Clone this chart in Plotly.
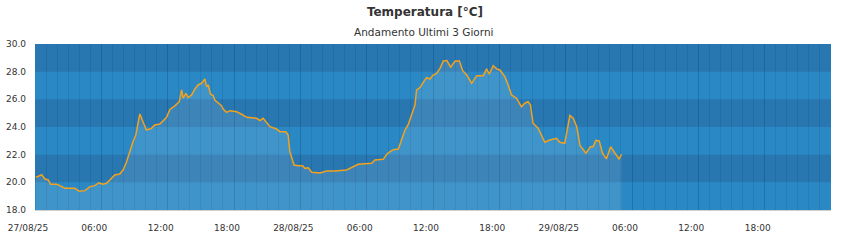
import plotly.graph_objects as go

# ---- data ----
times = [
    "2025-08-27 00:05", "2025-08-27 00:36", "2025-08-27 00:54", "2025-08-27 01:12", "2025-08-27 01:25",
    "2025-08-27 01:58", "2025-08-27 02:25", "2025-08-27 02:43", "2025-08-27 03:37", "2025-08-27 04:00",
    "2025-08-27 04:31", "2025-08-27 04:58", "2025-08-27 05:25", "2025-08-27 05:47", "2025-08-27 06:07",
    "2025-08-27 06:28", "2025-08-27 06:46", "2025-08-27 07:13", "2025-08-27 07:40", "2025-08-27 07:58",
    "2025-08-27 08:17", "2025-08-27 08:34", "2025-08-27 08:52", "2025-08-27 09:07", "2025-08-27 09:29",
    "2025-08-27 09:46", "2025-08-27 10:05", "2025-08-27 10:32", "2025-08-27 10:50", "2025-08-27 11:18",
    "2025-08-27 11:36", "2025-08-27 11:54", "2025-08-27 12:12", "2025-08-27 12:39", "2025-08-27 13:03",
    "2025-08-27 13:16", "2025-08-27 13:24", "2025-08-27 13:39", "2025-08-27 13:51", "2025-08-27 14:10",
    "2025-08-27 14:28", "2025-08-27 14:45", "2025-08-27 15:04", "2025-08-27 15:22", "2025-08-27 15:31",
    "2025-08-27 15:40", "2025-08-27 15:53", "2025-08-27 16:07", "2025-08-27 16:16", "2025-08-27 16:34",
    "2025-08-27 16:52", "2025-08-27 17:01", "2025-08-27 17:20", "2025-08-27 17:38", "2025-08-27 18:14",
    "2025-08-27 18:41", "2025-08-27 19:09", "2025-08-27 20:03", "2025-08-27 20:21", "2025-08-27 20:38",
    "2025-08-27 20:57", "2025-08-27 21:15", "2025-08-27 21:51", "2025-08-27 22:09", "2025-08-27 22:41",
    "2025-08-27 22:54", "2025-08-27 23:03", "2025-08-27 23:12", "2025-08-27 23:26", "2025-08-27 23:49",
    "2025-08-28 00:13", "2025-08-28 00:25", "2025-08-28 00:43", "2025-08-28 01:02", "2025-08-28 01:47",
    "2025-08-28 02:23", "2025-08-28 03:08", "2025-08-28 04:11", "2025-08-28 04:38", "2025-08-28 05:14",
    "2025-08-28 06:27", "2025-08-28 06:45", "2025-08-28 07:30", "2025-08-28 07:49", "2025-08-28 08:07",
    "2025-08-28 08:25", "2025-08-28 08:52", "2025-08-28 09:10", "2025-08-28 09:28", "2025-08-28 09:46",
    "2025-08-28 10:04", "2025-08-28 10:22", "2025-08-28 10:31", "2025-08-28 10:49", "2025-08-28 11:07",
    "2025-08-28 11:25", "2025-08-28 11:43", "2025-08-28 12:01", "2025-08-28 12:20", "2025-08-28 12:38",
    "2025-08-28 12:56", "2025-08-28 13:15", "2025-08-28 13:36", "2025-08-28 14:00", "2025-08-28 14:23",
    "2025-08-28 14:41", "2025-08-28 15:03", "2025-08-28 15:30", "2025-08-28 15:57", "2025-08-28 16:33",
    "2025-08-28 16:51", "2025-08-28 17:05", "2025-08-28 17:27", "2025-08-28 17:45", "2025-08-28 18:03",
    "2025-08-28 18:30", "2025-08-28 18:48", "2025-08-28 19:06", "2025-08-28 19:33", "2025-08-28 20:00",
    "2025-08-28 20:18", "2025-08-28 20:36", "2025-08-28 20:49", "2025-08-28 21:03", "2025-08-28 21:30",
    "2025-08-28 21:49", "2025-08-28 22:07", "2025-08-28 22:34", "2025-08-28 23:10", "2025-08-28 23:28",
    "2025-08-28 23:55", "2025-08-29 00:23", "2025-08-29 00:41", "2025-08-29 01:00", "2025-08-29 01:18",
    "2025-08-29 01:50", "2025-08-29 02:15", "2025-08-29 02:29", "2025-08-29 02:44", "2025-08-29 03:02",
    "2025-08-29 03:20", "2025-08-29 03:41", "2025-08-29 04:04", "2025-08-29 04:27", "2025-08-29 04:50",
    "2025-08-29 05:03",
]
temps = [
    20.36, 20.55, 20.24, 20.17, 19.86, 19.86, 19.69, 19.57, 19.57, 19.35,
    19.40, 19.69, 19.76, 19.97, 19.86, 19.93, 20.17, 20.53, 20.60, 20.89,
    21.49, 22.22, 22.94, 23.42, 24.94, 24.38, 23.78, 23.90, 24.15, 24.22,
    24.46, 24.70, 25.27, 25.53, 25.83, 26.68, 26.08, 26.44, 26.12, 26.32,
    26.75, 27.04, 27.16, 27.47, 26.92, 27.04, 26.37, 26.27, 25.95, 25.71,
    25.54, 25.30, 25.06, 25.18, 25.11, 24.92, 24.70, 24.63, 24.46, 24.63,
    24.27, 24.02, 23.86, 23.66, 23.66, 23.42, 22.22, 21.85, 21.25, 21.20,
    21.20, 21.01, 21.05, 20.72, 20.68, 20.82, 20.82, 20.89, 21.06, 21.30,
    21.38, 21.62, 21.66, 22.03, 22.22, 22.36, 22.41, 23.18, 23.78, 24.19,
    24.87, 25.59, 26.68, 26.84, 27.23, 27.57, 27.47, 27.76, 27.88, 28.24,
    28.77, 28.80, 28.32, 28.77, 28.77, 28.07, 27.76, 27.16, 27.71, 27.71,
    28.20, 27.81, 28.43, 28.20, 28.12, 27.64, 27.04, 26.32, 26.08, 25.47,
    25.72, 25.83, 25.59, 24.27, 23.91, 23.42, 22.90, 23.06, 23.18, 22.90,
    22.82, 24.83, 24.63, 24.02, 22.66, 22.10, 22.58, 22.58, 23.03, 22.99,
    22.10, 21.69, 22.58, 22.12, 21.69, 22.03,
]

x_tick_vals = [
    "2025-08-27 00:00", "2025-08-27 06:00", "2025-08-27 12:00", "2025-08-27 18:00",
    "2025-08-28 00:00", "2025-08-28 06:00", "2025-08-28 12:00", "2025-08-28 18:00",
    "2025-08-29 00:00", "2025-08-29 06:00", "2025-08-29 12:00", "2025-08-29 18:00",
]
x_tick_text = [
    "27/08/25", "06:00", "12:00", "18:00",
    "28/08/25", "06:00", "12:00", "18:00",
    "29/08/25", "06:00", "12:00", "18:00",
]
y_ticks = [18, 20, 22, 24, 26, 28, 30]
dark_bands = [(20, 22), (24, 26), (28, 30)]

x_start = "2025-08-27 00:00"
x_end = "2025-08-30 00:00"

title = "Temperatura [°C]"
subtitle = "Andamento Ultimi 3 Giorni"

# ---- colours ----
LIGHT = "#2a89c5"
DARK = "#2877b1"
GRID = "rgba(10,50,95,0.13)"
LINE = "#f4a21c"
FILL = "rgba(255,255,255,0.10)"
FONT = "DejaVu Sans"

fig = go.Figure()
fig.add_trace(go.Scatter(
    x=times, y=temps, mode="lines",
    line=dict(color=LINE, width=1.5),
    fill="tozeroy", fillcolor=FILL,
    hoverinfo="skip", showlegend=False,
))

shapes = []
for lo, hi in dark_bands:
    shapes.append(dict(type="rect", xref="x", yref="y", x0=x_start, x1=x_end,
                       y0=lo, y1=hi, fillcolor=DARK, line=dict(width=0), layer="below"))

fig.update_layout(
    width=850, height=240,
    margin=dict(l=35, r=19, t=44, b=30, autoexpand=False),
    paper_bgcolor="white",
    plot_bgcolor=LIGHT,
    shapes=shapes,
    font=dict(family=FONT, size=9, color="#333333"),
    title=dict(text="<b>" + title + "</b>", x=0.5, xref="container", xanchor="center",
               y=1 - 12 / 240, yref="container", yanchor="middle",
               font=dict(family=FONT, size=12, color="#333333")),
    annotations=[dict(text=subtitle, xref="paper", yref="paper",
                      x=(423 - 35) / 796, y=1 + 12 / 166,
                      xanchor="center", yanchor="middle", showarrow=False,
                      font=dict(family=FONT, size=10.5, color="#333333"))],
)

fig.update_xaxes(
    type="date", range=[x_start, x_end], automargin=False,
    tickmode="array", tickvals=x_tick_vals, ticktext=x_tick_text,
    showgrid=True, gridcolor=GRID, gridwidth=1,
    minor=dict(tickmode="linear", tick0=x_start, dtick=3600000,
               showgrid=True, gridcolor=GRID, gridwidth=1, ticks=""),
    ticks="", ticklabelshift=-7, ticklabelstandoff=9,
    showline=True, linecolor="#d0d0d0", linewidth=1,
    zeroline=False, fixedrange=True,
)
fig.update_yaxes(
    range=[18, 30], tickmode="array", tickvals=y_ticks, automargin=False,
    tickformat=".1f", showgrid=False, zeroline=False,
    ticks="", ticklabelstandoff=8, fixedrange=True,
)

fig.write_html("out.html")
